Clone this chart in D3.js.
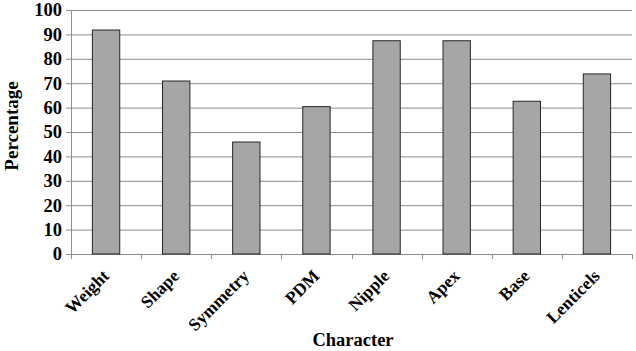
<!DOCTYPE html>
<html>
<head>
<meta charset="utf-8">
<script src="https://cdn.jsdelivr.net/npm/d3@7"></script>
<style>
    body { margin: 0; background: #fff; }
</style>
</head>
<body>
<div id="chart"></div>
<script>
var categories = ["Weight", "Shape", "Symmetry", "PDM", "Nipple", "Apex", "Base", "Lenticels"];
var percentages = [91.8, 70.9, 45.9, 60.4, 87.4, 87.4, 62.6, 73.8];
var yTicks = [0, 10, 20, 30, 40, 50, 60, 70, 80, 90, 100];

var FONT = "Liberation Serif";

var data = categories.map(function (c, i) {
    return {name: c, value: percentages[i]};
});

var W = 636, H = 351;
var margin = {top: 10, right: 4, bottom: 97, left: 71},
    width = W - margin.left - margin.right,
    height = H - margin.top - margin.bottom;

var svg = d3.select("#chart").append("svg")
        .attr("width", W)
        .attr("height", H)
        .attr("font-family", FONT)
        .attr("font-weight", "bold");

var g = svg.append("g")
        .attr("transform", "translate(" + margin.left + "," + margin.top + ")");

var x = d3.scaleBand().domain(categories).range([0, width]).paddingInner(0.61).paddingOuter(0.305);
var y = d3.scaleLinear().domain([0, 100]).range([height, 0]);

// gridlines
g.selectAll("line.grid")
        .data(yTicks.slice(1))
        .enter().append("line")
        .attr("class", "grid")
        .attr("x1", 0)
        .attr("x2", width)
        .attr("y1", function (d) { return y(d) + 0.5; })
        .attr("y2", function (d) { return y(d) + 0.5; })
        .attr("stroke", "#8c8c8c")
        .attr("stroke-width", 1);

// y axis
var yAxis = g.append("g")
        .call(d3.axisLeft(y).tickValues(yTicks).tickSize(5).tickPadding(4));
yAxis.attr("font-family", FONT).attr("font-size", 18.5);
yAxis.selectAll("text").attr("fill", "#000");

// x axis, ticks at category boundaries
var xAxis = g.append("g")
        .attr("transform", "translate(0," + height + ")")
        .call(d3.axisBottom(x).tickSize(0).tickPadding(0));
xAxis.attr("font-family", FONT).attr("font-size", 17.5);
xAxis.selectAll("text")
        .attr("fill", "#000")
        .attr("text-anchor", "end")
        .attr("y", 0)
        .attr("dy", 0)
        .attr("transform", "translate(4,23) rotate(-45)");

var step = x.step();
g.selectAll("line.xtick")
        .data(d3.range(categories.length + 1))
        .enter().append("line")
        .attr("class", "xtick")
        .attr("x1", function (d) { return Math.round(d * step) + 0.5; })
        .attr("x2", function (d) { return Math.round(d * step) + 0.5; })
        .attr("y1", height)
        .attr("y2", height + 5)
        .attr("stroke", "#8c8c8c");

svg.selectAll(".domain, .tick line").attr("stroke", "#8c8c8c");
xAxis.select(".domain").attr("d", "M0,0.5H" + width);

// bars
g.selectAll("rect.bar")
        .data(data)
        .enter().append("rect")
        .attr("class", "bar")
        .attr("x", function (d) { return x(d.name); })
        .attr("y", function (d) { return y(d.value); })
        .attr("width", x.bandwidth())
        .attr("height", function (d) { return height - y(d.value); })
        .attr("fill", "#a6a6a6")
        .attr("stroke", "#262626")
        .attr("stroke-width", 1);

// axis titles
svg.append("text")
        .attr("x", 353)
        .attr("y", 346)
        .attr("text-anchor", "middle")
        .attr("font-size", 18.5)
        .text("Character");

svg.append("text")
        .attr("transform", "translate(18,126) rotate(-90)")
        .attr("text-anchor", "middle")
        .attr("font-size", 19)
        .text("Percentage");
</script>
</body>
</html>
